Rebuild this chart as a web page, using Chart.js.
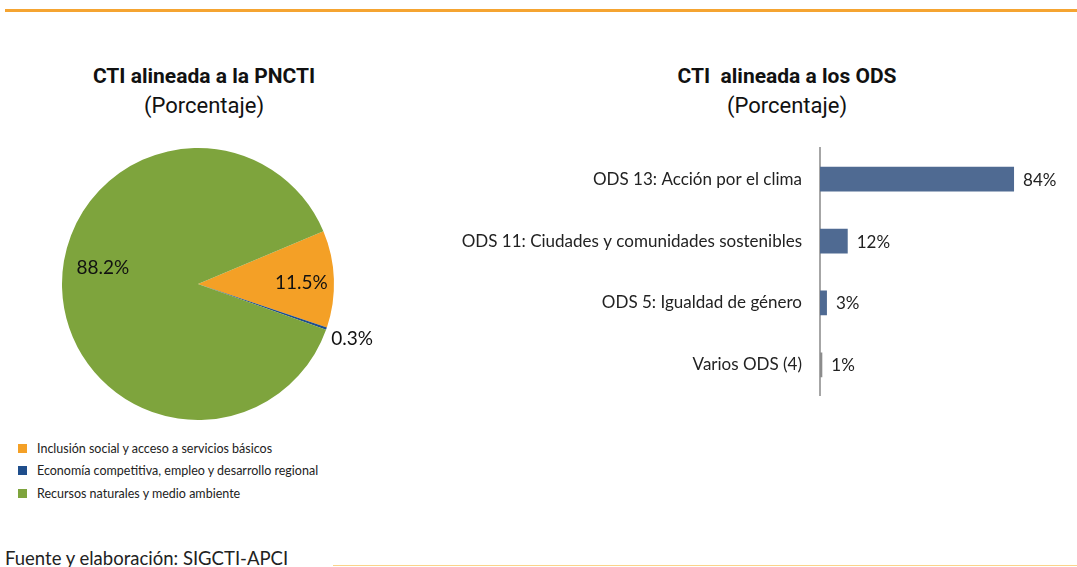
<!DOCTYPE html>
<html lang="es">
<head>
<meta charset="utf-8">
<script src="https://cdn.jsdelivr.net/npm/chart.js@4"></script>
<style>
    body { margin: 0; width: 1077px; height: 567px; overflow: hidden; background: #fff; position: relative; font-family: Lato, sans-serif; }
    .rule-top { position: absolute; left: 5px; top: 9px; width: 1072px; height: 3px; background: #f5a431; }
    .rule-bottom { position: absolute; left: 333px; top: 565px; width: 744px; height: 1px; background: #fbd38a; }
    .title { position: absolute; text-align: center; font-family: Roboto, sans-serif; color: #111; white-space: pre; }
    .title b { display: block; font-size: 21px; line-height: 26px; }
    .title span { display: block; font-size: 22px; line-height: 26px; margin-top: 4px; }
    #pieBox { position: absolute; left: -2px; top: 134px; width: 400px; height: 300px; }
    #barBox { position: absolute; left: 420px; top: 120px; width: 657px; height: 304px; }
    #legend { position: absolute; left: 18px; top: 437px; font-size: 12.5px; color: #222; }
    #legend div { height: 22.5px; display: flex; align-items: center; }
    #legend i { display: inline-block; width: 9px; height: 9px; margin-right: 10px; }
    .source { position: absolute; left: 5px; top: 547px; font-size: 18.5px; color: #222; }
</style>
</head>
<body>
<div class="rule-top"></div>

<div class="title" style="left:54px; top:63px; width:300px;"><b>CTI alineada a la PNCTI</b><span>(Porcentaje)</span></div>
<div class="title" style="left:637px; top:63px; width:300px;"><b>CTI  alineada a los ODS</b><span>(Porcentaje)</span></div>

<div id="pieBox"><canvas id="pieChart"></canvas></div>
<div id="barBox"><canvas id="barChart"></canvas></div>
<div id="legend"></div>

<div class="source">Fuente y elaboración: SIGCTI-APCI</div>
<div class="rule-bottom"></div>

<script>
// --- Data ---
const pncti_labels = ['Inclusión social y acceso a servicios básicos', 'Economía competitiva, empleo y desarrollo regional', 'Recursos naturales y medio ambiente'];
const pncti_values = [11.5, 0.3, 88.2];
const pncti_colors = ['#f4a026', '#1f4e8c', '#7ea43d'];

const ods_labels = ['ODS 13: Acción por el clima', 'ODS 11: Ciudades y comunidades sostenibles', 'ODS 5: Igualdad de género', 'Varios ODS (4)'];
const ods_values = [84, 12, 3, 1];
const ods_colors = ['#4f6a92', '#4f6a92', '#4f6a92', '#8c8c8c'];

Chart.defaults.font.family = 'Lato, sans-serif';
Chart.defaults.color = '#222';

// legend list under the pie
const legendEl = document.getElementById('legend');
pncti_labels.forEach((txt, i) => {
    const row = document.createElement('div');
    row.innerHTML = `<i style="background:${pncti_colors[i]}"></i>${txt}`;
    legendEl.appendChild(row);
});

// percentage labels for the pie slices (radius factor + small nudge)
const pieLabelPos = [{ r: 0.76, dy: 3 }, { r: 1.2, dy: 1 }, { r: 0.7, dy: -19 }];
const pieLabels = {
    id: 'pieLabels',
    afterDatasetsDraw(chart) {
        const ctx = chart.ctx;
        const meta = chart.getDatasetMeta(0);
        ctx.save();
        ctx.font = '19px Lato, sans-serif';
        ctx.fillStyle = '#111';
        ctx.textAlign = 'center';
        ctx.textBaseline = 'middle';
        meta.data.forEach((arc, i) => {
            const p = arc.getProps(['x', 'y', 'startAngle', 'endAngle', 'outerRadius'], true);
            const mid = (p.startAngle + p.endAngle) / 2;
            const r = p.outerRadius * pieLabelPos[i].r;
            const x = p.x + Math.cos(mid) * r;
            const y = p.y + Math.sin(mid) * r + pieLabelPos[i].dy;
            ctx.fillText(pncti_values[i].toFixed(1) + '%', x, y);
        });
        ctx.restore();
    }
};

new Chart(document.getElementById('pieChart'), {
    type: 'pie',
    data: {
        labels: pncti_labels,
        datasets: [{
            data: pncti_values,
            backgroundColor: pncti_colors,
            borderWidth: 0
        }]
    },
    options: {
        responsive: true,
        maintainAspectRatio: false,
        animation: false,
        rotation: 67.2,
        layout: { padding: 14 },
        plugins: { legend: { display: false }, tooltip: { enabled: false } }
    },
    plugins: [pieLabels]
});

// value labels at the end of each bar
const barLabels = {
    id: 'barLabels',
    afterDatasetsDraw(chart) {
        const ctx = chart.ctx;
        const meta = chart.getDatasetMeta(0);
        ctx.save();
        ctx.font = '17px Lato, sans-serif';
        ctx.fillStyle = '#222';
        ctx.textAlign = 'left';
        ctx.textBaseline = 'middle';
        meta.data.forEach((bar, i) => {
            ctx.fillText(ods_values[i] + '%', bar.x + 9, bar.y + 1);
        });
        ctx.restore();
    }
};

new Chart(document.getElementById('barChart'), {
    type: 'bar',
    data: {
        labels: ods_labels,
        datasets: [{
            data: ods_values,
            backgroundColor: ods_colors,
            barPercentage: 0.4,
            categoryPercentage: 1
        }]
    },
    options: {
        indexAxis: 'y',
        responsive: true,
        maintainAspectRatio: false,
        animation: false,
        layout: { padding: { top: 6, bottom: 4, right: 26, left: 0 } },
        scales: {
            x: { display: false, min: 0, max: 100 },
            y: {
                afterFit: (scale) => { scale.width = 400; },
                grid: { display: false, drawTicks: false },
                border: { color: '#a6a6a6', width: 2 },
                ticks: { padding: 18, color: '#222', font: { size: 17 } }
            }
        },
        plugins: { legend: { display: false }, tooltip: { enabled: false } }
    },
    plugins: [barLabels]
});
</script>
</body>
</html>
